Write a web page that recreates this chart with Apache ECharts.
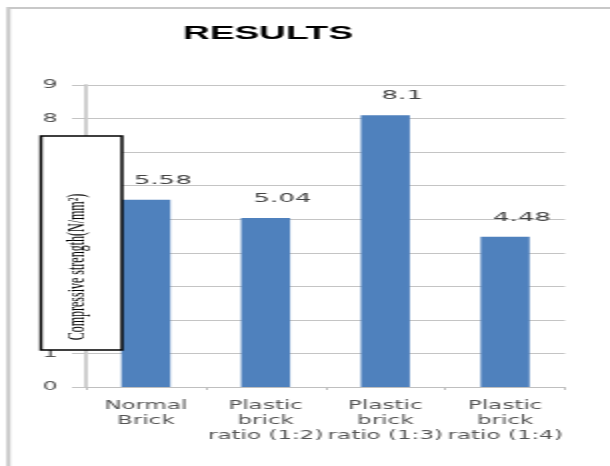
<!DOCTYPE html>
<html>
<head>
<meta charset="utf-8">
<script src="https://cdn.jsdelivr.net/npm/echarts@6/dist/echarts.min.js"></script>
<style>
  html, body { margin: 0; padding: 0; background: #ffffff; overflow: hidden; }
  #wrap { width: 610px; height: 466px; overflow: hidden; position: relative; }
  #chart { width: 305px; height: 466px; transform: scaleX(2); transform-origin: 0 0; position: absolute; left: 0; top: 0; }
</style>
</head>
<body>
<div id="wrap"><div id="chart"></div></div>
<script>
const titleText = 'RESULTS';
const categories = ['Normal\nBrick', 'Plastic\nbrick\nratio (1:2)', 'Plastic\nbrick\nratio (1:3)', 'Plastic\nbrick\nratio (1:4)'];
const values = [5.58, 5.04, 8.1, 4.48];
const valueLabels = ['5.58', '5.04', '8.1', '4.48'];
const yTicks = ['0', '1', '2', '3', '4', '5', '6', '7', '8', '9'];
const yAxisTitle = 'Compressive strength(N/mm²)';

const chart = echarts.init(document.getElementById('chart'), null, { renderer: 'canvas' });
chart.setOption({
  animation: false,
  backgroundColor: '#ffffff',
  title: {
    text: titleText,
    left: 129,
    top: 19,
    textAlign: 'center',
    textStyle: { fontFamily: '"Liberation Sans", sans-serif', fontWeight: 'bold', fontSize: 18.5, color: '#000000' }
  },
  grid: { left: 43, right: 22.5, top: 85, bottom: 79 },
  xAxis: {
    type: 'category',
    data: categories,
    axisLine: { lineStyle: { color: '#bfbfbf', width: 1 } },
    axisTick: { show: true, length: 3, lineStyle: { color: '#bfbfbf' } },
    axisLabel: {
      interval: 0, margin: 12, color: '#555555',
      fontFamily: '"DejaVu Sans", sans-serif', fontSize: 11.5, lineHeight: 15
    }
  },
  yAxis: {
    type: 'value', min: 0, max: 9, interval: 1,
    axisLine: { show: true, lineStyle: { color: '#cfcfcf', width: 2 } },
    axisTick: { show: true, length: 7, lineStyle: { color: '#c4c4c4' } },
    splitLine: { lineStyle: { color: '#c4c4c4', width: 1 } },
    axisLabel: {
      margin: 14, color: '#555555', fontFamily: '"DejaVu Sans", sans-serif', fontSize: 12,
      formatter: function (v) { return yTicks[Math.round(v)]; }
    }
  },
  series: [{
    type: 'bar',
    data: values,
    barWidth: 24.5,
    itemStyle: { color: '#4f81bd' },
    label: {
      show: true, position: 'top', distance: 13, offset: [8.5, 0],
      color: '#444444', fontFamily: '"DejaVu Sans", sans-serif', fontSize: 13,
      formatter: function (p) { return valueLabels[p.dataIndex]; }
    }
  }],
  graphic: [
    {
      type: 'rect', silent: true, z: 0,
      shape: { x: 4.25, y: 8, width: 400, height: 500 },
      style: { fill: 'none', stroke: '#c8c8c8', lineWidth: 2 }
    },
    {
      type: 'rect', z: 100,
      shape: { x: 20.5, y: 136, width: 40.5, height: 214 },
      style: { fill: '#ffffff', stroke: '#000000', lineWidth: 1.5 }
    },
    {
      type: 'text', z: 101,
      x: 38.5, y: 267, rotation: Math.PI / 2,
      style: {
        text: yAxisTitle, fill: '#000000',
        font: '12px "Liberation Serif", serif',
        align: 'center', verticalAlign: 'middle'
      }
    }
  ]
});
</script>
</body>
</html>
